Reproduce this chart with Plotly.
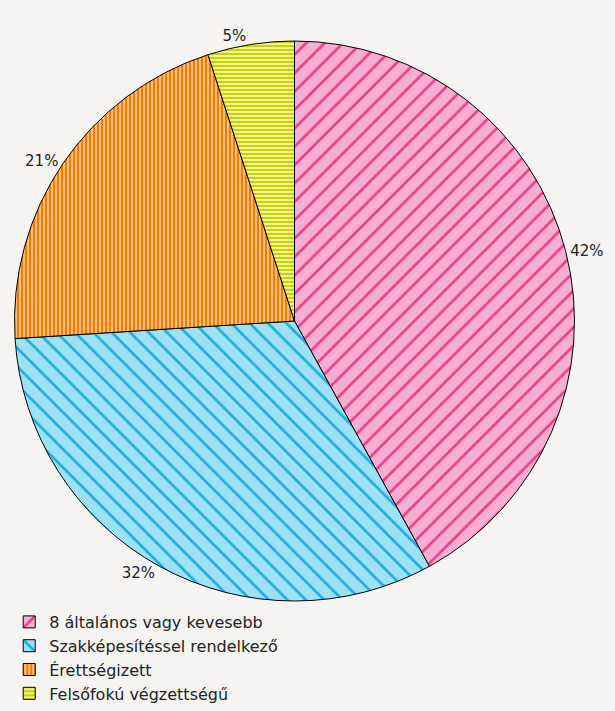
import plotly.graph_objects as go

# Iskolai végzettség megoszlása
kategoriak = ["8 általános vagy kevesebb", "Szakképesítéssel rendelkező",
              "Érettségizett", "Felsőfokú végzettségű"]
ertekek = [42, 32, 21, 5]
cimkek = ["42%", "32%", "21%", "5%"]

hatter = ["#f7aed0", "#9fe1f4", "#fbbd7c", "#f0f29a"]
vonal = ["#e6408a", "#1aaed8", "#f47c00", "#c5d300"]
minta = ["/", "\\", "|", "-"]

fig = go.Figure(go.Pie(
    labels=kategoriak,
    values=ertekek,
    text=cimkek,
    textinfo="text",
    textposition="outside",
    sort=False,
    direction="clockwise",
    rotation=0,
    hoverinfo="label+percent",
    outsidetextfont=dict(color="#222222", size=15),
    marker=dict(
        colors=hatter,
        line=dict(color="black", width=1),
        pattern=dict(
            shape=minta,
            fgcolor=vonal,
            bgcolor=hatter,
            size=[13, 13, 4, 4],
            solidity=[0.2, 0.2, 0.5, 0.5],
            fillmode="replace",
        ),
    ),
    domain=dict(x=[14 / 615, 575 / 615], y=[1 - 601 / 711, 1 - 41 / 711]),
))

fig.update_layout(
    width=615,
    height=711,
    margin=dict(l=0, r=0, t=0, b=0),
    paper_bgcolor="#f5f4f2",
    plot_bgcolor="#f5f4f2",
    font=dict(family="DejaVu Sans", size=15, color="#222222"),
    legend=dict(
        x=0.015, y=0.0,
        xanchor="left", yanchor="bottom",
        orientation="v",
        font=dict(size=16, color="#222222"),
        itemwidth=30,
        tracegroupgap=0,
        bgcolor="rgba(0,0,0,0)",
    ),
)

# a böngésző alapértelmezett 8px-es margójának eltávolítása
fig.write_html("out.html", config={"displayModeBar": False},
               post_script="document.body.style.margin='0';")
